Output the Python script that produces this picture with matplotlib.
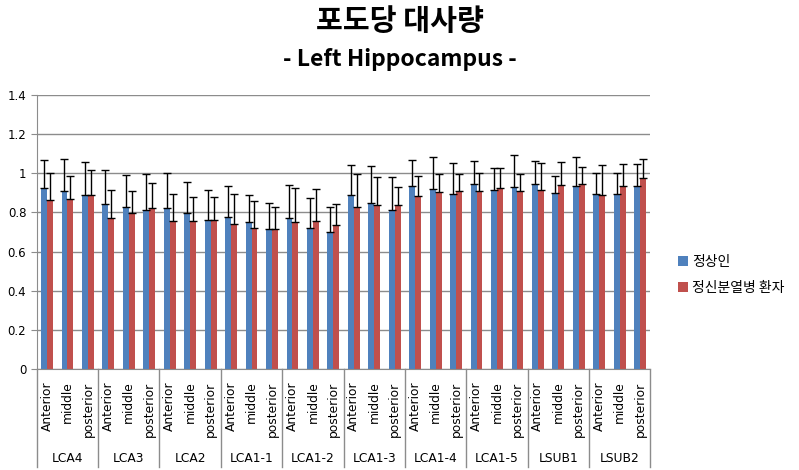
import matplotlib.pyplot as plt
import numpy as np

plt.rcParams['font.family'] = ['DejaVu Sans', 'Noto Sans CJK KR']

# data
groups = ['LCA4', 'LCA3', 'LCA2', 'LCA1-1', 'LCA1-2', 'LCA1-3',
          'LCA1-4', 'LCA1-5', 'LSUB1', 'LSUB2']
parts = ['Anterior', 'middle', 'posterior']

normal = [0.924, 0.908, 0.890, 0.844, 0.829, 0.813, 0.824, 0.798, 0.762,
          0.778, 0.752, 0.717, 0.773, 0.722, 0.698, 0.891, 0.849, 0.813,
          0.935, 0.920, 0.896, 0.946, 0.913, 0.930, 0.946, 0.900, 0.935,
          0.895, 0.895, 0.934]
normal_top = [1.066, 1.071, 1.059, 1.018, 0.990, 0.995, 1.000, 0.954, 0.913,
              0.934, 0.888, 0.847, 0.939, 0.873, 0.827, 1.041, 1.036, 0.980,
              1.066, 1.081, 1.051, 1.061, 1.025, 1.091, 1.061, 0.985, 1.081,
              1.000, 1.000, 1.046]
patient = [0.864, 0.869, 0.890, 0.773, 0.798, 0.822, 0.757, 0.757, 0.762,
           0.742, 0.722, 0.717, 0.752, 0.757, 0.737, 0.829, 0.839, 0.839,
           0.885, 0.905, 0.907, 0.907, 0.925, 0.910, 0.915, 0.940, 0.946,
           0.888, 0.934, 0.978]
patient_top = [1.003, 0.985, 1.015, 0.913, 0.907, 0.949, 0.893, 0.881, 0.881,
               0.893, 0.856, 0.827, 0.924, 0.917, 0.842, 0.995, 0.980, 0.929,
               0.985, 0.996, 0.996, 1.000, 1.025, 0.996, 1.051, 1.056, 1.030,
               1.041, 1.046, 1.074]

normal = np.array(normal)
patient = np.array(patient)
normal_err = np.array(normal_top) - normal
patient_err = np.array(patient_top) - patient

blue = '#4f81bd'
red = '#c0504d'

fig = plt.figure(figsize=(7.99, 4.70), dpi=100)
ax = fig.add_axes([0.046, 0.215, 0.768, 0.583])

n = len(normal)
x = np.arange(n)
w = 0.29
ax.bar(x - w / 2, normal, w, color=blue, label='정상인',
       yerr=[np.zeros(n), normal_err], capsize=3,
       error_kw=dict(ecolor='black', elinewidth=1, capthick=1))
ax.bar(x + w / 2, patient, w, color=red, label='정신분열병 환자',
       yerr=[np.zeros(n), patient_err], capsize=3,
       error_kw=dict(ecolor='black', elinewidth=1, capthick=1))

ax.set_xlim(-0.5, n - 0.5)
ax.set_ylim(0, 1.4)
ax.set_yticks(np.arange(0, 1.41, 0.2))
ax.set_yticklabels(['0', '0.2', '0.4', '0.6', '0.8', '1', '1.2', '1.4'])
ax.yaxis.grid(True, color='#8c8c8c', linewidth=1)
ax.set_axisbelow(True)
ax.tick_params(axis='y', length=4, color='#8c8c8c', labelsize=8.5)

ax.set_xticks(x)
ax.set_xticklabels(parts * len(groups), rotation=90, fontsize=8.8)
ax.tick_params(axis='x', length=0, pad=9)

for s in ['top', 'right']:
    ax.spines[s].set_visible(False)
ax.spines['left'].set_color('#8c8c8c')
ax.spines['bottom'].set_color('#8c8c8c')

# group separators and labels under the axis
for i in range(len(groups) + 1):
    xs = i * 3 - 0.5
    ax.plot([xs, xs], [0, -0.5], color='#8c8c8c', lw=1, clip_on=False)
for i, g in enumerate(groups):
    ax.text(i * 3 + 1, -0.455, g, ha='center', va='center', fontsize=8.8)

fig.text(0.5, 0.955, '포도당 대사량', ha='center', va='center',
         fontsize=21, fontweight='bold', family=['Noto Sans CJK KR'])
fig.text(0.5, 0.873, '- Left Hippocampus -', ha='center', va='center',
         fontsize=16.5, fontweight='bold', family=['Noto Sans CJK KR', 'DejaVu Sans'])

fig.legend(loc='center left', bbox_to_anchor=(0.833, 0.415), frameon=False,
           prop={'family': ['Noto Sans CJK KR'], 'size': 10},
           handlelength=0.7, handleheight=0.7, handletextpad=0.3,
           labelspacing=0.9)

plt.savefig('out.png', dpi=100)
